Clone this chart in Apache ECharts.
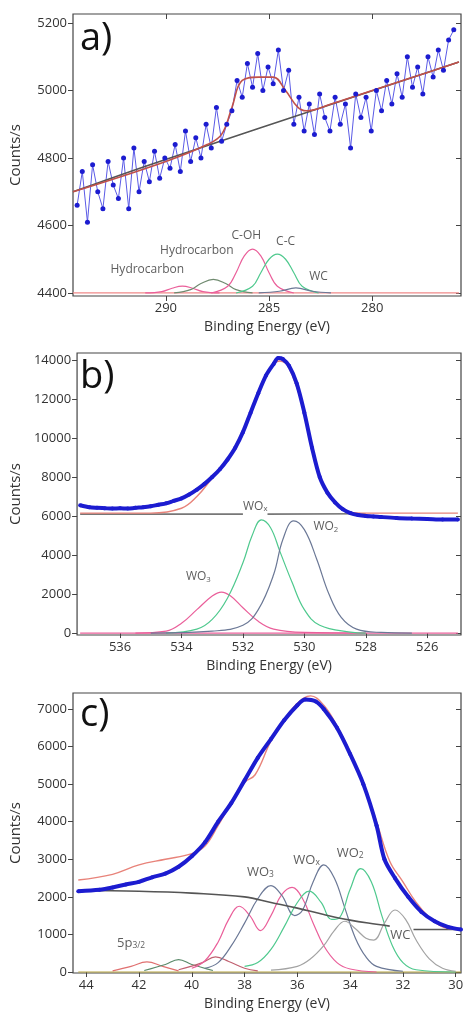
<!DOCTYPE html>
<html>
<head>
<meta charset="utf-8">
<script src="https://cdn.jsdelivr.net/npm/echarts@6/dist/echarts.min.js"></script>
<style>html,body{margin:0;padding:0;background:#fff}#chart{width:474px;height:1027px}</style>
</head>
<body>
<div id="chart"></div>
<script>
// panel a) C 1s
const aData = [[294.3,4660],[294.05,4760],[293.8,4610],[293.55,4780],[293.3,4700],[293.05,4650],[292.8,4790],[292.55,4720],[292.3,4680],[292.05,4800],[291.8,4650],[291.55,4830],[291.3,4700],[291.05,4790],[290.8,4730],[290.55,4820],[290.3,4740],[290.05,4800],[289.8,4770],[289.55,4840],[289.3,4760],[289.05,4880],[288.8,4790],[288.55,4860],[288.3,4800],[288.05,4900],[287.8,4830],[287.55,4950],[287.3,4850],[287.05,4900],[286.8,4940],[286.55,5030],[286.3,4980],[286.05,5080],[285.8,5010],[285.55,5110],[285.3,5000],[285.05,5070],[284.8,5020],[284.55,5120],[284.3,5000],[284.05,5060],[283.8,4900],[283.55,4980],[283.3,4880],[283.05,4960],[282.8,4870],[282.55,4990],[282.3,4920],[282.05,4880],[281.8,4980],[281.55,4900],[281.3,4960],[281.05,4830],[280.8,4990],[280.55,4920],[280.3,4980],[280.05,4880],[279.8,5000],[279.55,4940],[279.3,5030],[279.05,4960],[278.8,5050],[278.55,4980],[278.3,5100],[278.05,5010],[277.8,5070],[277.55,4990],[277.3,5100],[277.05,5040],[276.8,5120],[276.55,5060],[276.3,5150],[276.05,5180]];
const aFit = [[294.5,4700],[290,4790],[288,4840],[287.3,4870],[286.8,4950],[286.3,5030],[285.5,5040],[284.8,5040],[284.2,5000],[283.6,4950],[283.2,4940],[282,4960],[280,5000],[278,5040],[275.8,5085]];
const aBg = [[294.5,4700],[290.3,4790],[275.8,5085]];
const aBase = [[294.5,4400],[275.8,4400]];
const aHydro1 = [[291,4400],[290.2,4404],[289.7,4414],[289.2,4420],[288.7,4414],[288.2,4404],[287.4,4400]];
const aHydro2 = [[289.6,4400],[288.8,4410],[288.3,4428],[287.7,4440],[287.1,4428],[286.6,4410],[285.8,4400]];
const aCOH = [[287.8,4400],[287,4420],[286.6,4460],[286.2,4510],[285.8,4530],[285.4,4510],[285,4460],[284.6,4420],[283.8,4400]];
const aCC = [[286.6,4400],[285.8,4420],[285.4,4460],[285,4500],[284.6,4515],[284.2,4500],[283.8,4460],[283.4,4420],[282.6,4400]];
const aWC = [[285.5,4400],[284.5,4405],[283.7,4415],[282.9,4405],[282,4400]];
const aLabels = [{value:[290.9,4468],name:'Hydrocarbon'},{value:[288.5,4527],name:'Hydrocarbon'},{value:[286.1,4569],name:'C-OH'},{value:[284.2,4551],name:'C-C'},{value:[282.6,4450],name:'WC'}];

// panel b) O 1s
const bData = [[537.3,6550],[537.0,6450],[536.75,6420],[536.5,6400],[536.25,6380],[536.0,6400],[535.75,6380],[535.5,6420],[535.25,6450],[535.0,6500],[534.75,6580],[534.5,6650],[534.25,6780],[534.0,6900],[533.75,7100],[533.5,7350],[533.25,7650],[533.0,8000],[532.75,8400],[532.5,8900],[532.25,9500],[532.0,10300],[531.75,11300],[531.5,12300],[531.25,13200],[531.0,13800],[530.85,14100],[530.7,14050],[530.5,13700],[530.25,12800],[530.0,11300],[529.75,9500],[529.5,8000],[529.25,7200],[529.0,6700],[528.75,6350],[528.5,6150],[528.25,6050],[528.0,6000],[527.75,5980],[527.5,5950],[527.0,5900],[526.5,5870],[526.0,5850],[525.5,5820],[525.0,5820]];
const bFit = [[537.3,6150],[535,6150],[534,6400],[533.5,7000],[533,7950],[532.5,8900],[532,10300],[531.5,12300],[531,13800],[530.8,13950],[530.5,13600],[530,11300],[529.5,8000],[529,6700],[528.5,6200],[528,6150],[525,6150]];
const bBg = [[537.3,6100],[532,6100],null,[531.2,6100],[528,6120]];
const bBase = [[537.3,0],[525,0]];
const bWO3 = [[535.5,0],[534.5,100],[534,500],[533.5,1200],[533,1900],[532.7,2100],[532.4,1900],[532,1300],[531.5,600],[531,200],[530,30],[528,0]];
const bWOx = [[534.5,0],[533.5,200],[533,700],[532.5,1800],[532,3600],[531.7,5000],[531.4,5800],[531.1,5400],[530.8,4200],[530.4,2600],[530,1200],[529.5,400],[528.5,50],[528,0]];
const bWO2 = [[535,0],[533,100],[532,400],[531.5,1200],[531,3000],[530.7,4800],[530.35,5750],[530,5300],[529.6,3800],[529.2,2000],[528.8,800],[528.3,200],[527.5,30],[526.5,0]];
const bLabels = [{value:[531.6,6510],name:'WO{s|x}'},{value:[529.3,5440],name:'WO{s|2}'},{value:[533.45,2870],name:'WO{s|3}'}];

// panel c) W 4f
const cData = [[44.3,2150],[43.5,2190],[43,2250],[42.5,2330],[42,2400],[41.5,2520],[41,2620],[40.5,2800],[40,3080],[39.5,3450],[39,4000],[38.5,4500],[38,5100],[37.5,5700],[37,6200],[36.5,6700],[36,7100],[35.7,7250],[35.3,7200],[35,7000],[34.5,6500],[34,5800],[33.5,5000],[33,3900],[32.7,3000],[32.3,2500],[31.8,2000],[31.3,1600],[30.8,1350],[30.3,1200],[29.8,1130]];
const cFit = [[44.3,2450],[43,2600],[42,2850],[41,3000],[40,3150],[39.5,3350],[39,3900],[38.5,4500],[38,5050],[37.6,5250],[37,6150],[36.5,6700],[36,7150],[35.5,7350],[35,7100],[34.5,6550],[34,5850],[33.5,5000],[33,4000],[32.5,2950],[32,2400],[31.5,1850],[31,1450],[30.5,1200],[30,1130]];
const cBg = [[44.3,2170],[42,2150],[40,2100],[38,2000],[37,1850],[36,1700],[35,1530],[34,1380],[33,1270],[32.5,1220],null,[31.6,1130],[29.8,1130]];
const cBase = [[44.3,0],[29.8,0]];
const cPink = [[40,100],[39.5,300],[39,800],[38.6,1400],[38.2,1750],[37.8,1500],[37.4,1100],[37,1500],[36.6,2050],[36.2,2250],[35.8,1950],[35.4,1300],[35,700],[34.5,250],[34,80],[33,0]];
const cBlue = [[39.5,100],[39,250],[38.5,700],[38,1300],[37.5,1950],[37,2300],[36.6,2050],[36.1,1500],[35.8,1650],[35.4,2400],[35,2850],[34.6,2500],[34.2,1700],[33.8,900],[33.4,400],[33,150],[32,20]];
const cGreen = [[38,150],[37.5,250],[37,600],[36.5,1200],[36,1850],[35.55,2150],[35.1,1850],[34.7,1400],[34.4,1450],[34,2200],[33.6,2750],[33.2,2400],[32.8,1500],[32.4,700],[32,250],[31.5,60],[30,0]];
const cGrey = [[37,50],[36,150],[35.5,350],[35,700],[34.6,1100],[34.2,1350],[33.8,1150],[33.4,900],[33.1,850],[32.7,1300],[32.3,1650],[31.9,1400],[31.5,850],[31,350],[30.5,100],[30,20]];
const cSmall1 = [[43,30],[42.3,150],[41.7,270],[41.1,150],[40.5,30]];
const cSmall2 = [[41.8,40],[41,200],[40.5,330],[40,200],[39.2,40]];
const cSmall3 = [[40.5,60],[39.6,250],[39.1,400],[38.6,280],[38,100],[37.5,30]];
const cLabels = [{value:[42.3,770],name:'5p{s|3/2}'},{value:[37.4,2660],name:'WO{s|3}'},{value:[35.65,2980],name:'WO{s|x}'},{value:[34.0,3170],name:'WO{s|2}'},{value:[32.1,985],name:'WC'}];

const xTicksA = [280,285,290], yTicksA = [4400,4600,4800,5000,5200];
const xTicksB = [526,528,530,532,534,536], yTicksB = [0,2000,4000,6000,8000,10000,12000,14000];
const xTicksC = [30,32,34,36,38,40,42,44], yTicksC = [0,1000,2000,3000,4000,5000,6000,7000];

const FONT = 'Open Sans';
const chart = echarts.init(document.getElementById('chart'));

const grids = [
  {left:69, top:14, width:392, height:282},
  {left:69, top:353, width:392, height:282},
  {left:69, top:693, width:392, height:280}
].map(g => Object.assign(g, {show:true, borderColor:'#444', borderWidth:1.2}));

function xAx(i, min, max, ticks, pos){
  const main = pos === 'bottom';
  return {type:'value', gridIndex:i, min:min, max:max, inverse:true, position:pos,
    name: main ? 'Binding Energy (eV)' : '', nameLocation:'middle', nameGap:24,
    nameTextStyle:{fontFamily:FONT, fontSize:14, color:'#333'},
    axisLine:{show:false}, splitLine:{show:false},
    axisTick:{show:true, inside:!main, length:5, customValues:ticks, lineStyle:{color:'#444'}},
    axisLabel:{show:main, customValues:ticks, formatter:v => String(v), fontFamily:FONT, fontSize:13, color:'#333', margin:6}};
}
function yAx(i, min, max, ticks, pos){
  const main = pos === 'left';
  return {type:'value', gridIndex:i, min:min, max:max, position:pos,
    name: main ? 'Counts/s' : '', nameLocation:'middle', nameGap:50,
    nameTextStyle:{fontFamily:FONT, fontSize:15, color:'#333'},
    axisLine:{show:false}, splitLine:{show:false},
    axisTick:{show:true, inside:!main, length:5, customValues:ticks, lineStyle:{color:'#444'}},
    axisLabel:{show:main, customValues:ticks, formatter:v => String(v), fontFamily:FONT, fontSize:13, color:'#333', margin:6}};
}

const xAxes = [
  xAx(0,275.7,294.5,xTicksA,'bottom'), xAx(0,275.7,294.5,xTicksA,'top'),
  xAx(1,524.9,537.4,xTicksB,'bottom'), xAx(1,524.9,537.4,xTicksB,'top'),
  xAx(2,29.8,44.5,xTicksC,'bottom'), xAx(2,29.8,44.5,xTicksC,'top')
];
const yAxes = [
  yAx(0,4391,5227,yTicksA,'left'), yAx(0,4391,5227,yTicksA,'right'),
  yAx(1,-100,14359,yTicksB,'left'), yAx(1,-100,14359,yTicksB,'right'),
  yAx(2,-27,7426,yTicksC,'left'), yAx(2,-27,7426,yTicksC,'right')
];

function line(p, data, color, width){
  return {type:'line', xAxisIndex:p*2, yAxisIndex:p*2, data:data, smooth:0.4,
    showSymbol:false, silent:true, connectNulls:false,
    lineStyle:{color:color, width:width || 1.2}};
}
function dots(p, data, size, width, smooth){
  return {type:'line', xAxisIndex:p*2, yAxisIndex:p*2, data:data, silent:true, smooth:smooth,
    symbol:'circle', symbolSize:size, itemStyle:{color:'#1c1cd0'},
    lineStyle:{color: width > 2 ? '#1c1cd0' : '#5a5ae6', width:width}};
}
function labels(p, data, size){
  return {type:'scatter', xAxisIndex:p*2, yAxisIndex:p*2, data:data, symbolSize:0, silent:true,
    label:{show:true, position:'inside', formatter:'{b}', fontFamily:FONT, fontSize:size, color:'#333',
      rich:{s:{fontSize:size*0.65, verticalAlign:'bottom', padding:[6,0,0,0], fontFamily:FONT, color:'#333'}}}};
}

const PINK = '#ea5f9a', GREEN = '#4fc98e', BLUEG = '#6b7896', GREY = '#a3a3a3', RED = '#e8837a', BLACK = '#555';

const series = [
  line(0, aBase, '#f08a8a', 1.2),
  line(0, aHydro1, PINK), line(0, aHydro2, '#6f8a6f'), line(0, aCOH, PINK),
  line(0, aCC, GREEN), line(0, aWC, BLUEG),
  dots(0, aData, 5, 1, false),
  line(0, aBg, BLACK, 1.6),
  line(0, aFit, '#c0504a', 1.6),
  labels(0, aLabels, 12),

  line(1, bBase, PINK), line(1, bWO3, PINK), line(1, bWOx, GREEN), line(1, bWO2, BLUEG),
  line(1, bBg, '#777', 1.6),
  line(1, bFit, RED, 1.4),
  dots(1, bData, 4, 4, 0.3),
  labels(1, bLabels, 12),

  line(2, cBase, '#b8a640'), line(2, cSmall1, '#e07070'), line(2, cSmall2, '#5a8a6a'), line(2, cSmall3, '#c06070'),
  line(2, cPink, PINK), line(2, cBlue, BLUEG), line(2, cGreen, GREEN), line(2, cGrey, GREY),
  line(2, cBg, BLACK, 1.6),
  line(2, cFit, RED, 1.4),
  dots(2, cData, 4, 4, 0.3),
  labels(2, cLabels, 13)
];

chart.setOption({
  animation:false,
  grid:grids, xAxis:xAxes, yAxis:yAxes, series:series,
  graphic:[
    {type:'text', left:80, top:20, style:{text:'a)', fontFamily:FONT, fontSize:38, fill:'#111'}},
    {type:'text', left:80, top:358, style:{text:'b)', fontFamily:FONT, fontSize:38, fill:'#111'}},
    {type:'text', left:80, top:696, style:{text:'c)', fontFamily:FONT, fontSize:38, fill:'#111'}}
  ]
});
</script>
</body>
</html>
